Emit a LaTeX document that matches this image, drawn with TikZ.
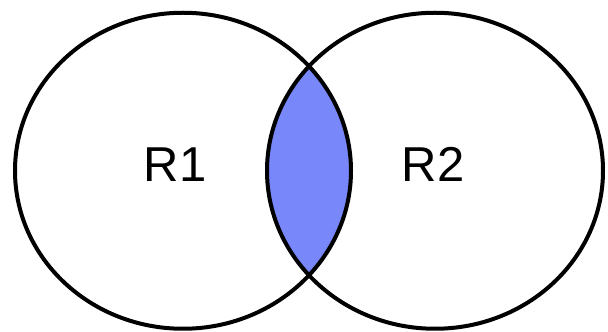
\documentclass[tikz,border=0pt]{standalone}
\usepackage{fontspec}
\setmainfont{Liberation Sans}
\usetikzlibrary{positioning}
\definecolor{lensblue}{HTML}{7888FA}

\begin{document}
\begin{tikzpicture}[x=1pt,y=1pt]
\useasboundingbox (0,0) rectangle (608,332);
\begin{scope}
\clip (183,161.25) ellipse [x radius=168, y radius=158];
\fill[lensblue] (435,161.25) ellipse [x radius=168, y radius=158];
\end{scope}
\draw[line width=4pt] (183,161.25) ellipse [x radius=168, y radius=158];
\draw[line width=4pt] (435,161.25) ellipse [x radius=168, y radius=158];
\node[anchor=base, font=\fontsize{49}{52}\selectfont] (rone) at (175,150.3) {R1};
\node[anchor=base, font=\fontsize{49}{52}\selectfont] (rtwo) at (433,150.3) {R2};
\end{tikzpicture}
\end{document}
